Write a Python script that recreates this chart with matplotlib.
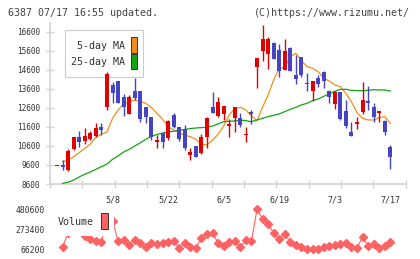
import numpy as np
import matplotlib
matplotlib.use('Agg')
import matplotlib.pyplot as plt
from matplotlib.patches import Rectangle

# candle data
opens = [9550, 9600, 9335, 10440, 11085, 10875, 10960, 11120, 11610, 12625,
         13800, 14010, 13170, 12290, 13480, 13480, 12625, 12100, 10790, 11260,
         11030, 12220, 11575, 11490, 10140, 10595, 10245, 11050, 12625, 12170,
         12260, 11645, 12050, 12080, 11170, 12400, 14760, 15600, 15410, 16020,
         15635, 14585, 15760, 14320, 15270, 13920, 13500, 14180, 14460, 13480,
         12780, 13410, 12430, 11310, 11750, 12400, 12960, 12625, 12345, 11910,
         10560]
highs = [9550, 9860, 10440, 11050, 11380, 11520, 11400, 11785, 11785, 14460,
         13970, 14010, 13325, 13280, 14150, 13480, 12625, 12100, 11170, 11350,
         11960, 12310, 11575, 11700, 10470, 10595, 11225, 12100, 13450, 13150,
         12695, 11995, 12660, 12310, 11610, 12485, 15230, 16950, 16335, 16070,
         15950, 16210, 15800, 15370, 15270, 14410, 14010, 14320, 14550, 13535,
         13500, 13410, 13010, 11840, 12100, 13975, 13745, 12835, 12430, 11960,
         10650]
lows = [9550, 9335, 9300, 10385, 10525, 10700, 10910, 11085, 11170, 12485,
        12835, 12870, 12190, 12290, 13010, 11870, 11780, 10910, 10510, 10470,
        10910, 11520, 10875, 10385, 9860, 10035, 10175, 10475, 12310, 12100,
        11960, 11050, 11310, 11610, 10820, 11730, 13660, 15075, 14655, 15180,
        14235, 14585, 14550, 13850, 14200, 13500, 12975, 13710, 13660, 12835,
        12520, 11960, 11520, 11140, 11490, 12260, 12485, 11870, 11870, 11170,
        9405]
closes = [9550, 9490, 10330, 11050, 10820, 11120, 11295, 11560, 11435, 14375,
          13395, 12870, 12625, 13170, 13130, 11995, 12100, 11050, 10910, 10790,
          11910, 11610, 10960, 10475, 10280, 10035, 11050, 12050, 12345, 12890,
          12695, 11750, 12625, 11700, 11170, 12290, 15230, 16210, 16210, 15180,
          14550, 15580, 14550, 14130, 14320, 13830, 14010, 13830, 14010, 13185,
          13450, 12010, 11660, 11140, 11840, 13010, 12870, 12135, 12430, 11350,
          10000]

# moving averages
ma5 = [np.nan, 9790, 9840, 10035, 10245, 10470, 10700, 11050, 11210, 11330,
       12050, 12485, 12800, 12920, 13010, 12920, 12835, 12610, 12310, 11995,
       11610, 11435, 11295, 11155, 11085, 10945, 10680, 10650, 10910, 11210,
       11645, 12220, 12570, 12625, 12485, 12170, 11925, 12625, 13270, 14060,
       14670, 14725, 15285, 15460, 15075, 14760, 14670, 14500, 14150, 14010,
       13800, 13710, 13360, 12920, 12345, 12050, 11960, 11960, 12080, 12135,
       11785]
ma25 = [np.nan, 8635, 8690, 8810, 8970, 9110, 9230, 9370, 9510, 9650,
        9895, 10070, 10280, 10420, 10595, 10760, 10950, 11100, 11200, 11270,
        11330, 11370, 11420, 11460, 11510, 11540, 11560, 11575, 11645, 11750,
        11870, 11890, 11910, 11960, 11925, 11870, 11960, 12050, 12135, 12205,
        12275, 12400, 12520, 12625, 12750, 12835, 12975, 13060, 13200, 13325,
        13465, 13570, 13570, 13515, 13500, 13500, 13515, 13550, 13535, 13535,
        13480]

volume = [np.nan, 93800, 230000, 300000, 260000, 200000, 173000, 152500, 140000, 420000,
          360000, 149000, 165700, 107600, 165700, 131500, 86900, 131500, 121100, 131500,
          138700, 149000, 79700, 131500, 86900, 79700, 183300, 224700, 235100, 131500,
          97300, 138700, 149000, 90000, 159400, 149000, 480600, 380100, 328300, 235100,
          172900, 224700, 138700, 107600, 90000, 66200, 69300, 72700, 86900, 103500,
          113900, 121100, 131500, 90000, 79700, 193600, 103500, 124200, 79700, 97300,
          138700]

date_pos = [10, 20, 30, 40, 50, 60]
date_labels = ['5/8', '5/22', '6/5', '6/19', '7/3', '7/17']
price_ticks = list(range(8600, 16601, 1000))
vol_ticks = [66200, 273400, 480600]

RED = '#e00000'
BLUE = '#4444c4'
ORANGE = '#f0901a'
GREEN = '#12a412'
VOLC = '#ff6262'
GRID = '#d4d4d4'
TXT = '#333333'

W, H = 420, 259
fig = plt.figure(figsize=(W / 100, H / 100), dpi=100)


def fx(px):
    return px / W


def fy(py):
    return 1 - py / H


x = np.arange(len(opens))
xlim = (-1.26, 62.77)

# --- price panel ---
ax = fig.add_axes([fx(50), fy(184), fx(405.7) - fx(50), fy(23) - fy(184)])
ax.set_xlim(xlim)
ax.set_ylim(8600, 17050)

o = np.array(opens, float)
c = np.array(closes, float)
up = c >= o
cols = [RED if u else BLUE for u in up]
ax.vlines(x, lows, highs, colors=cols, lw=1.0, zorder=4)
bottoms = np.minimum(o, c)
heights = np.maximum(np.abs(c - o), 60)
ax.bar(x, heights, bottom=bottoms, width=0.72, color=cols, lw=0, zorder=5)

ax.plot(x, ma5, color=ORANGE, lw=0.9, zorder=3)
ax.plot(x, ma25, color=GREEN, lw=0.9, zorder=3)

for s in ['top', 'right']:
    ax.spines[s].set_visible(False)
for s in ['left', 'bottom']:
    ax.spines[s].set_color(GRID)
    ax.spines[s].set_linewidth(1.2)

ax.set_yticks(price_ticks)
ax.set_yticklabels([str(v) for v in price_ticks], family='DejaVu Sans Mono',
                   fontsize=5.6, color=TXT)
ax.tick_params(axis='y', direction='inout', length=6, width=1.0, color=GRID, pad=4)

ax.set_xticks(np.linspace(xlim[0], xlim[1], 12), minor=True)
ax.set_xticks(date_pos)
ax.set_xticklabels(date_labels, family='DejaVu Sans Mono', fontsize=6, color=TXT)
ax.tick_params(axis='x', which='major', length=0, pad=8)
ax.tick_params(axis='x', which='minor', direction='inout', length=6, width=1.0, color=GRID)

# legend box
fig.patches.append(Rectangle((fx(65), fy(77)), fx(143) - fx(65), fy(30) - fy(77),
                             transform=fig.transFigure, facecolor='white',
                             edgecolor='#cccccc', lw=0.8, zorder=1))
ax.set_zorder(2)
ax.patch.set_alpha(0)
fig.text(fx(125), fy(46), '5-day MA', ha='right', va='center',
         family='DejaVu Sans Mono', fontsize=7.2, color=TXT)
fig.text(fx(125), fy(62), '25-day MA', ha='right', va='center',
         family='DejaVu Sans Mono', fontsize=7.2, color=TXT)
fig.patches.append(Rectangle((fx(131), fy(53)), fx(6), fy(0) - fy(16),
                             transform=fig.transFigure, facecolor=ORANGE,
                             edgecolor='#333333', lw=0.7))
fig.patches.append(Rectangle((fx(131), fy(69)), fx(6), fy(0) - fy(15),
                             transform=fig.transFigure, facecolor=GREEN,
                             edgecolor='#333333', lw=0.7))

# --- volume panel ---
axv = fig.add_axes([fx(50), fy(256), fx(405.7) - fx(50), fy(203) - fy(256)])
axv.set_xlim(xlim)
axv.set_ylim(-3200, 545900)
axv.plot(x, volume, color=VOLC, lw=0.8, marker='D', ms=3.8, mec=VOLC, mfc=VOLC, zorder=2)
for s in axv.spines.values():
    s.set_visible(False)
axv.set_xticks([])
axv.set_yticks(vol_ticks)
axv.set_yticklabels([str(v) for v in vol_ticks], family='DejaVu Sans Mono',
                    fontsize=5.8, color=TXT)
axv.tick_params(axis='y', length=0, pad=4)

# volume legend covers the first points
axv.add_patch(Rectangle((fx(55), fy(236)), fx(114.5) - fx(55), fy(204) - fy(236),
                        transform=fig.transFigure, facecolor='white', lw=0, zorder=5))
axv.text(fx(58), fy(222), 'Volume', ha='left', va='center', transform=fig.transFigure,
         family='DejaVu Sans Mono', fontsize=7.2, color=TXT, zorder=6)
axv.add_patch(Rectangle((fx(101), fy(228.5)), fx(7), fy(0) - fy(15.5),
                        transform=fig.transFigure, facecolor=VOLC,
                        edgecolor='#333333', lw=0.7, zorder=6))

# header
fig.text(fx(8), fy(12.7), '6387 07/17 16:55 updated.', ha='left', va='center',
         family='DejaVu Sans Mono', fontsize=7.2, color='#444444')
fig.text(fx(410), fy(12.7), '(C)https://www.rizumu.net/', ha='right', va='center',
         family='DejaVu Sans Mono', fontsize=7.2, color='#444444')

fig.savefig('out.png', dpi=100, facecolor='white')
